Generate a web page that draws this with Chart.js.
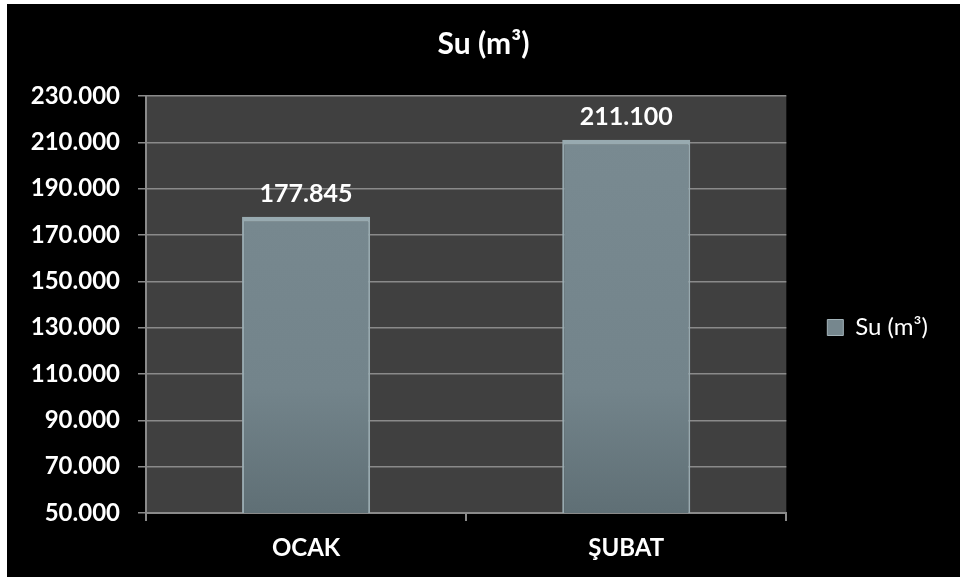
<!DOCTYPE html>
<html>
<head>
<meta charset="utf-8">
<script src="https://cdn.jsdelivr.net/npm/chart.js@4.4.0/dist/chart.umd.min.js"></script>
<style>
  html, body { margin: 0; padding: 0; background: #fff; }
  #wrap { position: absolute; left: 7px; top: 4px; width: 953px; height: 573px; background: #000; }
</style>
</head>
<body>
<div id="wrap"><canvas id="suChart" width="953" height="573"></canvas></div>
<script>
// Monthly water usage
const months = ['OCAK', 'ŞUBAT'];
const waterValues = [177845, 211100];
const seriesName = 'Su (m³)';
const yMin = 50000;
const yMax = 230000;
const yStep = 20000;

const FONT = 'Lato';
const SIDE_PAD = 22; // same on both sides so the title stays centred on the canvas

// Turkish style thousands separator: 177845 -> 177.845
function fmt(v) {
    return String(v).replace(/\B(?=(\d{3})+(?!\d))/g, '.');
}

// dark plot background
const plotBg = {
    id: 'plotBg',
    beforeDraw(chart) {
        const { ctx, chartArea: a } = chart;
        ctx.save();
        ctx.fillStyle = '#404040';
        ctx.fillRect(a.left, a.top, a.right - a.left, a.bottom - a.top);
        ctx.restore();
    }
};

// value labels above the bars
const valueLabels = {
    id: 'valueLabels',
    afterDatasetsDraw(chart) {
        const ctx = chart.ctx;
        ctx.save();
        ctx.font = 'bold 25px ' + FONT;
        ctx.fillStyle = '#ffffff';
        ctx.textAlign = 'center';
        ctx.textBaseline = 'alphabetic';
        chart.getDatasetMeta(0).data.forEach((bar, i) => {
            ctx.fillText(fmt(waterValues[i]), bar.x, bar.y - 15);
        });
        ctx.restore();
    }
};

function barFill(context) {
    const area = context.chart.chartArea;
    if (!area) return '#76878e';
    const g = context.chart.ctx.createLinearGradient(0, area.top, 0, area.bottom);
    g.addColorStop(0, '#7a8b92');
    g.addColorStop(0.7, '#73848b');
    g.addColorStop(1, '#5f6f75');
    return g;
}

const ctx = document.getElementById('suChart').getContext('2d');
new Chart(ctx, {
    type: 'bar',
    data: {
        labels: months,
        datasets: [{
            label: seriesName,
            data: waterValues,
            backgroundColor: barFill,
            borderColor: '#98aab0',
            borderWidth: { top: 5, left: 2, right: 2, bottom: 0 },
            barPercentage: 0.4,
            categoryPercentage: 1.0
        }]
    },
    options: {
        responsive: false,
        animation: false,
        layout: { padding: { left: SIDE_PAD, right: SIDE_PAD, top: 0, bottom: 0 } },
        plugins: {
            title: {
                display: true,
                text: seriesName,
                color: '#ffffff',
                font: { family: FONT, size: 30, weight: 'bold' },
                padding: { top: 22, bottom: 34 }
            },
            legend: {
                display: true,
                position: 'right',
                fullSize: false,
                title: { display: true, text: '', font: { size: 10 }, padding: 17 },
                labels: {
                    color: '#ffffff',
                    font: { family: FONT, size: 24 },
                    boxWidth: 16,
                    boxHeight: 16,
                    padding: 41,
                    generateLabels(chart) {
                        return Chart.defaults.plugins.legend.labels.generateLabels(chart).map(item => {
                            item.fillStyle = '#76878e';
                            item.strokeStyle = '#a3b3b9';
                            item.lineWidth = 1;
                            return item;
                        });
                    }
                }
            },
            tooltip: { enabled: false }
        },
        scales: {
            x: {
                afterFit(scale) { scale.height = 64; },
                grid: {
                    drawOnChartArea: false,
                    color: '#8a8a8a',
                    lineWidth: 2,
                    tickLength: 8
                },
                border: { color: '#8a8a8a', width: 2 },
                ticks: {
                    color: '#ffffff',
                    padding: 13,
                    font: { family: FONT, size: 24, weight: 'bold' }
                }
            },
            y: {
                min: yMin,
                max: yMax,
                afterFit(scale) { scale.width = 139 - SIDE_PAD; },
                grid: {
                    color: '#8a8a8a',
                    lineWidth: 1.5,
                    tickLength: 8
                },
                border: { color: '#8a8a8a', width: 2 },
                ticks: {
                    stepSize: yStep,
                    color: '#ffffff',
                    padding: 18,
                    font: { family: FONT, size: 24, weight: 'bold' },
                    callback: v => fmt(v)
                }
            }
        }
    },
    plugins: [plotBg, valueLabels]
});
</script>
</body>
</html>
